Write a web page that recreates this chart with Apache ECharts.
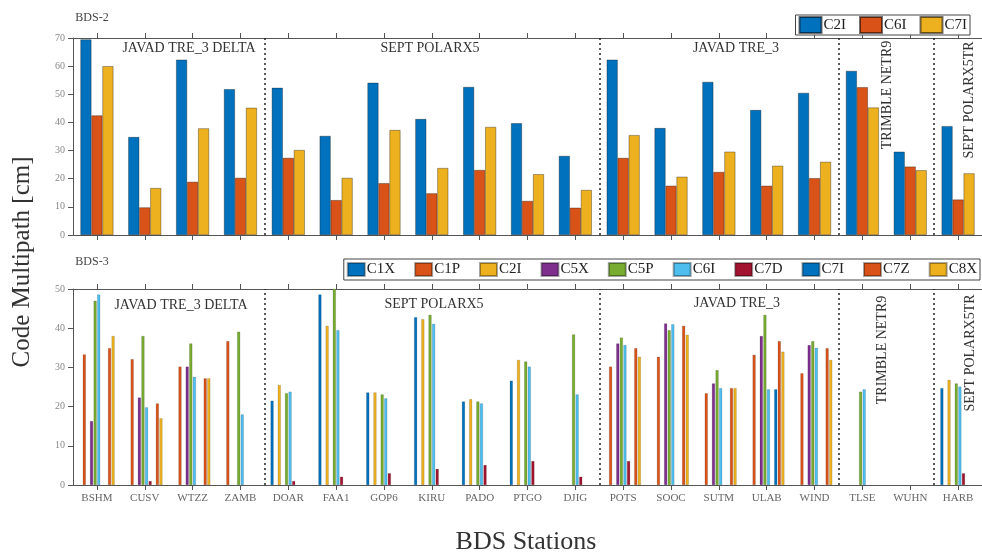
<!DOCTYPE html>
<html><head><meta charset="utf-8">
<script src="https://cdn.jsdelivr.net/npm/echarts@6/dist/echarts.min.js"></script>
<style>html,body{margin:0;padding:0;background:#fff}#c{width:982px;height:558px}</style>
</head><body><div id="c"></div>
<script>
const stations = ['BSHM','CUSV','WTZZ','ZAMB','DOAR','FAA1','GOP6','KIRU','PADO','PTGO','DJIG','POTS','SOOC','SUTM','ULAB','WIND','TLSE','WUHN','HARB'];
const bds2Ticks = [0,10,20,30,40,50,60,70];
const bds3Ticks = [0,10,20,30,40,50];
// receiver group boundaries (between stations)
const groupBoundaries = [4, 11, 16, 18];

// BDS-2
const bds2Names = ['C2I','C6I','C7I'];
const bds2_C2I = [69.5,34.8,62.3,51.8,52.3,35.2,54.1,41.2,52.6,39.7,28.1,62.3,38.0,54.4,44.4,50.5,58.3,29.6,38.7];
const bds2_C6I = [42.5,9.8,18.9,20.3,27.4,12.4,18.4,14.8,23.1,12.1,9.7,27.4,17.5,22.4,17.5,20.2,52.5,24.3,12.6];
const bds2_C7I = [60.0,16.7,37.9,45.2,30.2,20.3,37.3,23.8,38.4,21.6,16.0,35.5,20.7,29.6,24.6,26.0,45.3,23.0,21.9];

// BDS-3
const bds3Names = ['C1X','C1P','C2I','C5X','C5P','C6I','C7D','C7I','C7Z','C8X'];
const bds3_C1X = [null,null,null,null,21.5,48.6,23.6,42.8,21.3,26.6,null,null,null,null,null,null,null,null,24.7];
const bds3_C1P = [33.3,32.1,30.2,36.7,null,null,null,null,null,null,null,30.2,32.7,23.4,33.2,28.5,null,null,null];
const bds3_C2I = [null,null,null,null,25.5,40.6,23.6,42.3,21.9,31.9,null,null,null,null,null,null,null,null,26.8];
const bds3_C5X = [16.3,22.3,30.2,null,null,null,null,null,null,null,null,36.1,41.2,25.9,38.0,35.7,null,null,null];
const bds3_C5P = [47.0,38.0,36.1,39.1,23.4,50.5,23.1,43.4,21.3,31.5,38.4,37.6,39.5,29.3,43.4,36.7,23.8,null,25.9];
const bds3_C6I = [48.6,19.8,27.6,18.0,23.8,39.5,22.1,41.1,20.8,30.2,23.1,35.7,41.0,24.7,24.4,35.0,24.4,null,25.1];
const bds3_C7D = [null,1.0,null,null,1.0,2.1,3.0,4.1,5.1,6.1,2.1,6.1,null,null,null,null,null,null,3.0];
const bds3_C7I = [null,null,null,null,null,null,null,null,null,null,null,null,null,null,24.4,null,null,null,null];
const bds3_C7Z = [34.9,20.8,27.2,null,null,null,null,null,null,null,null,34.9,40.6,24.7,36.7,34.9,null,null,null];
const bds3_C8X = [38.0,17.0,27.2,null,null,null,null,null,null,null,null,32.7,38.3,24.7,34.0,31.9,null,null,null];

const bds2Data = [bds2_C2I, bds2_C6I, bds2_C7I];
const bds3Data = [bds3_C1X,bds3_C1P,bds3_C2I,bds3_C5X,bds3_C5P,bds3_C6I,bds3_C7D,bds3_C7I,bds3_C7Z,bds3_C8X];

const bds2Colors = ['#0072BD','#D95319','#EDB120'];
const bds3Colors = ['#0072BD','#D95319','#EDB120','#7E2F8E','#77AC30','#4DBEEE','#A2142F','#0072BD','#D95319','#EDB120'];

const SERIF = "'Liberation Serif', 'DejaVu Serif', serif";
const axisCol = '#555';

function catAxis(grid, pos, labels) {
  return {
    type: 'category', gridIndex: grid, position: pos, data: stations,
    boundaryGap: true,
    axisLine: {show: true, lineStyle: {color: axisCol, width: 1}},
    axisTick: {show: true, alignWithLabel: true, length: 5, lineStyle: {color: axisCol}},
    axisLabel: {show: labels, color: '#666', fontFamily: SERIF, fontSize: 11, margin: 8},
    splitLine: {show: false}
  };
}
function hiddenAxis(grid) {
  return {type: 'value', gridIndex: grid, min: 0, max: stations.length, show: false, position: 'bottom'};
}
function valAxis(grid, ticks) {
  return {
    type: 'value', gridIndex: grid, min: ticks[0], max: ticks[ticks.length-1], interval: ticks[1]-ticks[0],
    axisLine: {show: true, lineStyle: {color: axisCol}},
    axisTick: {show: true, length: 5, lineStyle: {color: axisCol}},
    axisLabel: {color: '#888', fontFamily: SERIF, fontSize: 10, margin: 8},
    splitLine: {show: false}
  };
}

const series = [];
bds2Names.forEach((n, i) => {
  series.push({
    name: 'B2-' + n, type: 'bar', xAxisIndex: 0, yAxisIndex: 0,
    data: bds2Data[i], barWidth: 11, barGap: '0%',
    itemStyle: {color: bds2Colors[i], borderColor: 'rgba(0,0,0,0.55)', borderWidth: 0.6}
  });
});
bds3Names.forEach((n, i) => {
  series.push({
    name: 'B3-' + n, type: 'bar', xAxisIndex: 3, yAxisIndex: 1,
    data: bds3Data[i], barWidth: 3, barGap: '20%',
    itemStyle: {color: bds3Colors[i], borderColor: 'rgba(0,0,0,0.35)', borderWidth: 0.4}
  });
});
const sepLine = {
  symbol: 'none', silent: true, label: {show: false},
  lineStyle: {type: [2, 3], color: '#222', width: 1.5},
  data: groupBoundaries.map(v => ({xAxis: v}))
};
series.push({type: 'line', xAxisIndex: 2, yAxisIndex: 0, data: [], markLine: sepLine});
series.push({type: 'line', xAxisIndex: 5, yAxisIndex: 1, data: [], markLine: sepLine});

function txt(text, x, y, size, rot, color) {
  return {type: 'text', x: x, y: y, rotation: rot || 0, silent: true,
    style: {text: text, fill: color || '#333', font: size + 'px ' + SERIF, textAlign: 'center', textVerticalAlign: 'middle'}};
}
const R = Math.PI / 2;
const graphics = [
  txt('BDS-2', 92, 18, 12, 0, '#444'),
  txt('BDS-3', 92, 262, 12, 0, '#444'),
  txt('JAVAD TRE_3 DELTA', 189, 48, 14),
  txt('SEPT POLARX5', 430, 48, 14),
  txt('JAVAD TRE_3', 736, 48, 14),
  txt('TRIMBLE NETR9', 887, 95, 14, R),
  txt('SEPT POLARX5TR', 969, 100, 14, R),
  txt('JAVAD TRE_3 DELTA', 181, 305, 14),
  txt('SEPT POLARX5', 434, 304, 14),
  txt('JAVAD TRE_3', 737, 303, 14),
  txt('TRIMBLE NETR9', 882, 350, 14, R),
  txt('SEPT POLARX5TR', 970, 353, 14, R),
  txt('Code Multipath [cm]', 22, 262, 25, R, '#333'),
  txt('BDS Stations', 526, 542, 26, 0, '#333')
];

const legendBase = {
  orient: 'horizontal', icon: 'rect', backgroundColor: '#fff',
  borderColor: '#444', borderWidth: 1, borderRadius: 0,
  textStyle: {fontFamily: SERIF, fontSize: 15, color: '#222', padding: [0,0,0,-3]},
  formatter: name => name.split('-')[1]
};

const option = {
  animation: false,
  backgroundColor: '#fff',
  grid: [
    {left: 73, top: 38, height: 197, right: 0, containLabel: false},
    {left: 73, top: 289, height: 196, right: 0, containLabel: false}
  ],
  xAxis: [
    catAxis(0, 'bottom', false), catAxis(0, 'top', false), hiddenAxis(0),
    catAxis(1, 'bottom', true), catAxis(1, 'top', false), hiddenAxis(1)
  ],
  yAxis: [valAxis(0, bds2Ticks), valAxis(1, bds3Ticks)],
  legend: [
    Object.assign({}, legendBase, {data: bds2Names.map(n => 'B2-' + n), right: 12, top: 15,
      itemWidth: 22, itemHeight: 16, itemGap: 13, padding: [1, 3, 1, 3]}),
    Object.assign({}, legendBase, {data: bds3Names.map(n => 'B3-' + n), right: 2, top: 259,
      itemWidth: 17, itemHeight: 13, itemGap: 19, padding: [3, 3, 3, 3]})
  ],
  series: series,
  graphic: graphics
};
const chart = echarts.init(document.getElementById('c'), null, {renderer: 'canvas'});
chart.setOption(option);
</script></body></html>
